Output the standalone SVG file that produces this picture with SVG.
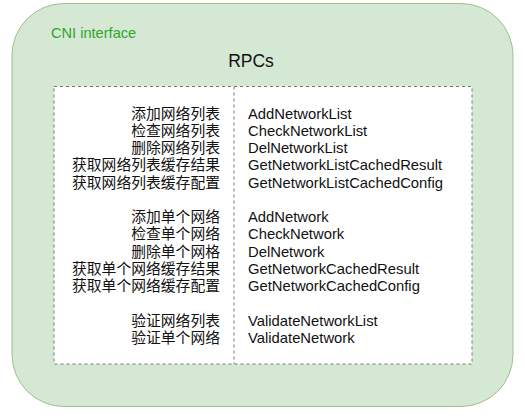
<svg xmlns="http://www.w3.org/2000/svg" width="525" height="418" viewBox="0 0 525 418">
<style>
.t{font-family:"Liberation Sans","Noto Sans CJK SC",sans-serif;font-size:14.8px;fill:#111}
.l{text-anchor:end}
</style>
<rect width="525" height="418" fill="#ffffff"/>
<g id="cni-interface">
<rect x="12" y="3.5" width="501" height="403" rx="52" ry="52" fill="#d5e8d4" stroke="#9fc08c" stroke-width="1"/>
<text x="51" y="38" font-family="'Liberation Sans',sans-serif" font-size="14.6" fill="#2ea52e">CNI interface</text>
<text x="251" y="67" text-anchor="middle" font-family="'Liberation Sans',sans-serif" font-size="17.5" fill="#111">RPCs</text>
</g>
<g id="rpcs-box">
<rect x="54" y="86.5" width="418" height="277.5" fill="#ffffff" stroke="#777" stroke-width="1" stroke-dasharray="3 3"/>
<line x1="234" y1="86.5" x2="234" y2="364" stroke="#777" stroke-width="1" stroke-dasharray="3 3"/>
</g>
<g id="left-labels">
<text class="t l" x="220" y="118.5">添加网络列表</text>
<text class="t l" x="220" y="135.75">检查网络列表</text>
<text class="t l" x="220" y="153">删除网络列表</text>
<text class="t l" x="220" y="170.25">获取网络列表缓存结果</text>
<text class="t l" x="220" y="187.5">获取网络列表缓存配置</text>
<text class="t l" x="220" y="222">添加单个网络</text>
<text class="t l" x="220" y="239.25">检查单个网络</text>
<text class="t l" x="220" y="256.5">删除单个网格</text>
<text class="t l" x="220" y="273.75">获取单个网络缓存结果</text>
<text class="t l" x="220" y="291">获取单个网络缓存配置</text>
<text class="t l" x="220" y="325.5">验证网络列表</text>
<text class="t l" x="220" y="342.75">验证单个网络</text>
</g>
<g id="right-labels">
<text class="t" x="248" y="118.5">AddNetworkList</text>
<text class="t" x="248" y="135.75">CheckNetworkList</text>
<text class="t" x="248" y="153">DelNetworkList</text>
<text class="t" x="248" y="170.25">GetNetworkListCachedResult</text>
<text class="t" x="248" y="187.5">GetNetworkListCachedConfig</text>
<text class="t" x="248" y="222">AddNetwork</text>
<text class="t" x="248" y="239.25">CheckNetwork</text>
<text class="t" x="248" y="256.5">DelNetwork</text>
<text class="t" x="248" y="273.75">GetNetworkCachedResult</text>
<text class="t" x="248" y="291">GetNetworkCachedConfig</text>
<text class="t" x="248" y="325.5">ValidateNetworkList</text>
<text class="t" x="248" y="342.75">ValidateNetwork</text>
</g>
</svg>
